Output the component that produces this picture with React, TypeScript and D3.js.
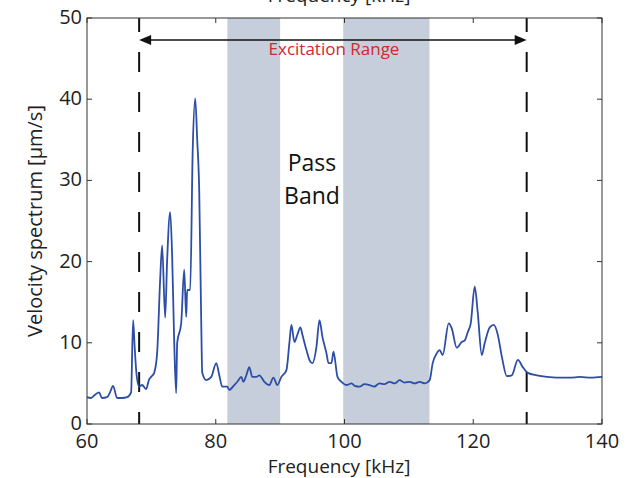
import React from "react";
import * as d3 from "d3";

const freq = [60.0, 60.62, 61.25, 61.87, 62.33, 63.11, 63.58, 64.05, 64.67, 65.45, 66.23, 66.85, 67.16, 67.39, 67.63, 68.09, 68.56, 69.18, 69.65, 69.96, 70.43, 70.89, 71.36, 71.67, 72.14, 72.45, 72.92, 73.23, 73.54, 73.85, 74.01, 74.63, 75.1, 75.41, 75.56, 76.03, 76.42, 76.81, 77.12, 77.43, 77.74, 77.9, 78.52, 79.3, 80.08, 80.55, 81.01, 81.79, 82.1, 82.88, 83.35, 83.97, 84.28, 84.75, 85.21, 85.68, 86.3, 86.77, 87.55, 88.33, 88.95, 89.57, 90.19, 90.97, 91.44, 91.75, 92.22, 92.68, 93.15, 93.46, 94.09, 94.55, 95.02, 95.64, 96.11, 96.58, 97.2, 97.51, 97.98, 98.29, 98.91, 99.53, 100.31, 101.09, 101.6, 102.34, 103.1, 103.89, 104.6, 105.45, 106.2, 107.0, 107.8, 108.56, 109.3, 110.12, 110.9, 111.67, 112.5, 113.23, 113.7, 114.32, 114.79, 115.25, 116.19, 116.65, 117.43, 118.21, 118.68, 119.14, 119.61, 120.23, 120.7, 121.32, 121.79, 122.57, 123.19, 123.81, 124.44, 125.21, 125.99, 126.93, 127.7, 128.48, 129.88, 131.44, 132.99, 135.02, 136.58, 138.3, 140.0];
const vel = [3.3, 3.2, 3.6, 3.9, 3.2, 3.3, 3.9, 4.7, 3.2, 3.2, 3.3, 3.9, 12.8, 9.7, 6.7, 4.6, 4.8, 4.3, 5.5, 5.8, 6.3, 8.7, 17.7, 22.0, 13.1, 20.2, 26.1, 20.6, 10.3, 3.8, 10.0, 12.4, 19.0, 13.2, 16.5, 16.5, 33.7, 40.1, 35.0, 28.8, 12.8, 6.3, 5.4, 5.8, 7.5, 6.0, 4.6, 4.6, 4.2, 4.8, 5.2, 5.8, 5.2, 6.0, 7.0, 5.8, 5.8, 6.0, 5.2, 4.8, 5.7, 4.8, 5.8, 6.6, 10.0, 12.2, 10.1, 11.0, 11.9, 11.0, 9.1, 7.9, 7.5, 9.5, 12.8, 10.7, 8.7, 7.5, 7.5, 8.9, 5.8, 5.2, 4.8, 5.0, 4.7, 4.6, 4.9, 4.8, 4.6, 5.0, 4.9, 5.2, 5.0, 5.4, 5.1, 5.2, 5.0, 5.2, 5.0, 5.4, 7.5, 8.7, 9.1, 8.5, 12.4, 11.8, 9.4, 10.1, 10.3, 11.3, 12.4, 16.9, 13.7, 8.5, 10.0, 11.9, 12.2, 11.0, 8.3, 5.9, 6.0, 7.9, 7.0, 6.3, 6.0, 5.8, 5.7, 5.7, 5.8, 5.7, 5.8];

const xTicks = [60, 80, 100, 120, 140];
const yTicks = [0, 10, 20, 30, 40, 50];
const passBands = [[81.8, 90.0], [99.8, 113.2]];
const excitationRange = [68.1, 128.3];
const arrowLevel = 47.3;

const W = 626, H = 478;
const L = 87, R = 602, T = 18, B = 424;
const FONT = "'Open Sans', sans-serif";

export default function App() {
  const x = d3.scaleLinear().domain([60, 140]).range([L, R]);
  const y = d3.scaleLinear().domain([0, 50]).range([B, T]);
  const pts = freq.map((f, i) => [f, vel[i]] as [number, number]);
  const line = d3.line<[number, number]>().x(d => x(d[0])).y(d => y(d[1])).curve(d3.curveMonotoneX);
  const ay = y(arrowLevel);
  const ax0 = x(excitationRange[0]), ax1 = x(excitationRange[1]);
  const ah = 12, aw = 5;
  return (
    <svg width={W} height={H} style={{ position: "absolute", left: 0, top: 0, background: "#fff" }} fontFamily={FONT}>
      <rect x={0} y={0} width={W} height={H} fill="#fff" />
      {passBands.map((b, i) => (
        <rect key={i} x={x(b[0])} y={T} width={x(b[1]) - x(b[0])} height={B - T} fill="#c6cedb" />
      ))}
      {excitationRange.map((f, i) => (
        <line key={i} x1={x(f)} x2={x(f)} y1={T} y2={B} stroke="#111" strokeWidth={2} strokeDasharray="20,20" strokeDashoffset={6} />
      ))}
      <path d={line(pts) || ""} fill="none" stroke="#2d4ea6" strokeWidth={1.8} strokeLinejoin="round" />
      <rect x={L} y={T} width={R - L} height={B - T} fill="none" stroke="#333" strokeWidth={1} />
      {xTicks.map(t => (
        <g key={t}>
          <line x1={x(t)} x2={x(t)} y1={B} y2={B - 5} stroke="#333" />
          <line x1={x(t)} x2={x(t)} y1={T} y2={T + 5} stroke="#333" />
          <text x={x(t)} y={B + 24} textAnchor="middle" fontSize={20} fill="#222">{t}</text>
        </g>
      ))}
      {yTicks.map(t => (
        <g key={t}>
          <line x1={L} x2={L + 5} y1={y(t)} y2={y(t)} stroke="#333" />
          <line x1={R} x2={R - 5} y1={y(t)} y2={y(t)} stroke="#333" />
          <text x={L - 5} y={y(t) + 6} textAnchor="end" fontSize={20} fill="#222">{t}</text>
        </g>
      ))}
      <line x1={ax0 + ah - 2} x2={ax1 - ah + 2} y1={ay} y2={ay} stroke="#111" strokeWidth={1.5} />
      <path d={`M${ax0},${ay} L${ax0 + ah},${ay - aw} L${ax0 + ah},${ay + aw} Z`} fill="#111" />
      <path d={`M${ax1},${ay} L${ax1 - ah},${ay - aw} L${ax1 - ah},${ay + aw} Z`} fill="#111" />
      <text x={334} y={55} textAnchor="middle" fontSize={17} fill="#d0282e">Excitation Range</text>
      <text x={312} y={171} textAnchor="middle" fontSize={23} fill="#111">Pass</text>
      <text x={312} y={204} textAnchor="middle" fontSize={23} fill="#111">Band</text>
      <text x={339} y={473} textAnchor="middle" fontSize={19} fill="#222">Frequency [kHz]</text>
      <text x={339} y={2} textAnchor="middle" fontSize={19} fill="#222">Frequency [kHz]</text>
      <text transform={`translate(42,${(T + B) / 2}) rotate(-90)`} textAnchor="middle" fontSize={20} fill="#222">Velocity spectrum [µm/s]</text>
    </svg>
  );
}
